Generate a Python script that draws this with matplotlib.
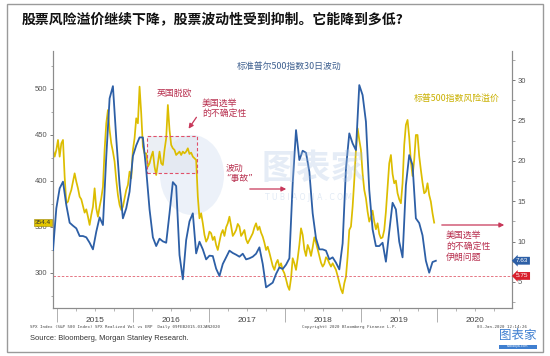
import pandas as pd
import matplotlib
matplotlib.use('Agg')
import matplotlib.pyplot as plt
import matplotlib.dates as mdates
from matplotlib.ticker import MultipleLocator, NullFormatter
from matplotlib.patches import Rectangle, Ellipse, FancyArrowPatch
from matplotlib.transforms import blended_transform_factory

plt.rcParams['font.family'] = ['Noto Sans CJK SC', 'DejaVu Sans']

# S&P 500 equity risk premium (bp, left axis), one reading every 8 days from 2014-12-13
erp = [
    433.6, 426.3, 433.6, 444.5, 426.3, 440.8, 444.5, 404.5, 375.5, 377.3,
    384.5, 390.0, 399.1, 408.1, 399.1, 391.8, 382.7, 379.8, 372.6, 365.3,
    368.9, 360.9, 351.9, 362.8, 371.8, 391.8, 370.0, 360.9, 371.8, 380.9,
    393.6, 433.6, 462.6, 477.1, 455.4, 440.8, 431.8, 420.9, 400.9, 384.5,
    373.7, 368.2, 371.8, 380.9, 390.0, 395.4, 410.0, 402.7, 433.6, 446.3,
    468.1, 462.6, 502.6, 473.5, 437.2, 429.9, 429.9, 415.4, 419.0, 426.3,
    431.8, 415.4, 406.3, 419.0, 431.8, 419.0, 417.2, 433.6, 446.3, 482.6,
    455.4, 439.0, 435.4, 433.6, 428.1, 429.9, 431.8, 428.1, 431.8, 429.9,
    431.8, 435.4, 429.2, 430.7, 426.3, 424.5, 422.7, 382.7, 359.1,
    364.6, 353.7, 341.0, 333.7, 337.3, 344.6, 342.8, 335.5, 339.1, 330.1,
    324.6, 333.7, 342.1, 346.4, 339.9, 349.3, 353.7, 360.9, 350.8, 339.9,
    342.8, 346.4, 353.0, 350.1, 339.9, 342.8, 346.4, 336.3, 331.9, 335.5,
    339.1, 342.8, 349.3, 353.7, 346.4, 350.1, 343.5, 339.1, 332.6, 324.6,
    328.2, 321.7, 314.5, 307.2, 302.9, 310.1, 313.8, 306.5, 310.1, 302.9,
    299.2, 292.7, 285.4, 281.1, 293.8, 315.6, 310.1, 302.9, 315.6, 330.1,
    348.2, 341.0, 325.4, 318.1, 330.1, 325.4, 318.1, 327.5, 338.4, 332.6,
    325.4, 318.1, 310.8, 306.5, 309.4, 316.7, 314.5, 310.1, 306.5, 310.1,
    306.5, 302.9, 296.3, 289.1, 281.8, 277.4, 288.3, 295.6, 317.4, 346.4,
    350.1, 371.8, 400.9, 433.6, 457.2, 444.5, 433.6, 408.1, 390.0, 380.9,
    366.4, 355.5, 360.9, 367.5, 355.5, 347.2, 353.7, 342.1, 337.3, 338.4,
    346.4, 366.4, 393.6, 419.0, 428.1, 407.4, 397.3, 400.2, 386.4, 379.8,
    375.5, 397.3, 439.0, 460.8, 466.3, 447.4, 420.9, 405.2, 422.7, 449.9,
    449.9, 427.0, 411.8, 398.0, 386.4, 388.2, 397.3, 384.6, 377.3, 364.6,
    354.4,
]

# S&P 500 30-day realized vol (%, right axis), one reading every 16 days
vol = [
    8.96, 14.12, 16.59, 17.42, 14.53, 12.34, 11.97, 11.64, 10.69, 10.69,
    10.53, 9.86, 9.04, 11.23, 13.00, 12.05, 20.51, 27.73, 29.25, 22.78,
    17.00, 12.88, 14.12, 16.18, 20.59, 21.91, 22.90, 22.90, 18.86, 13.99,
    10.53, 9.45, 10.36, 10.03, 9.86, 13.50, 17.37, 16.88, 8.34, 5.33,
    10.19, 12.51, 13.50, 8.54, 9.99,
    9.04, 7.80, 8.26, 8.21, 6.65, 5.74, 7.23, 8.05, 8.88, 8.59,
    8.38, 8.13, 8.50, 7.80, 7.93, 8.13, 8.50, 9.29, 7.23, 4.34,
    4.63, 4.92, 5.99, 6.81, 6.61, 7.14, 7.93, 17.21, 23.81, 20.10,
    21.25, 21.00, 18.65, 13.50, 10.40, 9.04, 9.04, 8.88, 7.80, 8.05,
    7.39, 6.56, 9.78, 19.06, 23.40,
    22.16, 21.33, 29.38, 28.14, 24.84, 16.38, 11.52, 9.45, 9.45, 9.86,
    7.51, 11.23, 14.81, 13.99, 9.99, 8.05, 16.97, 20.71, 19.48, 12.88,
    12.30, 10.77, 7.64, 6.15, 7.47, 7.63,
]

erp_dates = pd.date_range('2014-12-13', periods=len(erp), freq='8D')
vol_dates = pd.date_range('2014-12-13', periods=len(vol), freq='16D')

years = [2015, 2016, 2017, 2018, 2019, 2020]
erp_last = 354.4
vol_last = 7.63
vol_low = 5.75
brexit_box_dates = ['2016-03-07', '2016-11-02']
brexit_box_erp = [409, 449]

title = '股票风险溢价继续下降，股票波动性受到抑制。它能降到多低?'

BLUE = '#2d5fa6'
GOLD = '#dcbd00'
RED = '#b8304f'
GREY = '#555555'

W, H = 550, 356
fig = plt.figure(figsize=(5.5, 3.56), dpi=100)


def fx(x):
    return x / W


def fy(y):
    return 1 - y / H


ax = fig.add_axes([fx(53), fy(308), fx(512) - fx(53), fy(51) - fy(308)])
ax2 = ax.twinx()

# lines
ax.plot(erp_dates, erp, color=GOLD, lw=1.25, zorder=3)
ax2.plot(vol_dates, vol, color=BLUE, lw=1.3, zorder=3)
ax2.axhline(vol_low, color='#e06070', lw=0.6, ls=(0, (3, 2)), zorder=2)

# brexit box
x0 = mdates.date2num(pd.Timestamp(brexit_box_dates[0]))
x1 = mdates.date2num(pd.Timestamp(brexit_box_dates[1]))
ax.add_patch(Rectangle((x0, brexit_box_erp[0]), x1 - x0, brexit_box_erp[1] - brexit_box_erp[0],
                       fc='#dfe5ee', ec='none', alpha=0.6, zorder=1))
ax.add_patch(Rectangle((x0, brexit_box_erp[0]), x1 - x0, brexit_box_erp[1] - brexit_box_erp[0],
                       fc='none', ec='#e0506a', lw=0.8, ls=(0, (3, 2)), zorder=4))

# axes limits
ax.set_xlim(pd.Timestamp('2014-12-13'), pd.Timestamp('2020-12-27'))
ax.set_ylim(261.4, 541.4)
ax2.set_ylim(1.78, 33.6)

for a in (ax, ax2):
    a.spines['top'].set_visible(False)
    for s in ('left', 'right', 'bottom'):
        a.spines[s].set_color('#8c8c8c')
        a.spines[s].set_linewidth(0.8)
    a.patch.set_visible(False)

ax.set_yticks([300, 350, 400, 450, 500])
ax.yaxis.set_minor_locator(MultipleLocator(25))
ax2.set_yticks([5, 10, 15, 20, 25, 30])
ax2.yaxis.set_minor_locator(MultipleLocator(2.5))
ax.tick_params(axis='y', which='major', length=2.5, width=0.6, color='#666',
               labelsize=5.5, labelcolor=GREY, pad=1.5)
ax.tick_params(axis='y', which='minor', length=1.8, width=0.5, color='#888')
ax2.tick_params(axis='y', which='major', length=2.5, width=0.6, color='#666',
                labelsize=5.5, labelcolor=GREY, pad=1.5)
ax2.tick_params(axis='y', which='minor', length=1.8, width=0.5, color='#888')
for lab in ax.get_yticklabels() + ax2.get_yticklabels():
    lab.set_fontfamily('Liberation Sans')

ax.xaxis.set_major_locator(mdates.YearLocator())
ax.xaxis.set_minor_locator(mdates.MonthLocator(bymonth=[4, 7, 10]))
ax.xaxis.set_major_formatter(NullFormatter())
ax.tick_params(axis='x', which='major', length=10, width=0.7, color='#b0b0b0')
ax.tick_params(axis='x', which='minor', length=2, width=0.5, color='#999')

trans = blended_transform_factory(ax.transData, ax.transAxes)
for y in years:
    ax.text(pd.Timestamp(f'{y}-07-02'), -0.047, str(y), transform=trans,
            ha='center', va='center', fontsize=6, color='#444',
            family='Liberation Sans', clip_on=False)

# last value tags
tl = blended_transform_factory(ax.transAxes, ax.transData)
ax.text(-0.0044, erp_last, f'{erp_last}', transform=tl, ha='right', va='center',
        fontsize=4.6, color='#333', family='Liberation Sans', zorder=6,
        bbox=dict(boxstyle='square,pad=0.18', fc='#e2c500', ec='#9a8400', lw=0.4))
tr = blended_transform_factory(ax2.transAxes, ax2.transData)
ax2.text(1.009, vol_last, f'{vol_last}', transform=tr, ha='left', va='center',
         fontsize=4.6, color='white', family='Liberation Sans', zorder=6, clip_on=False,
         bbox=dict(boxstyle='larrow,pad=0.22', fc=BLUE, ec='none'))
ax2.text(1.009, vol_low, f'{vol_low}', transform=tr, ha='left', va='center',
         fontsize=4.6, color='white', family='Liberation Sans', zorder=6, clip_on=False,
         bbox=dict(boxstyle='larrow,pad=0.22', fc='#d8202c', ec='none'))

# watermark
fig.add_artist(Ellipse((fx(192), fy(175)), fx(64), 80 / H, transform=fig.transFigure,
                       fc='#c9d9ee', ec='none', alpha=0.35, zorder=0))
fig.text(fx(314), fy(168), '图表家', fontsize=25, color='#a9c3e3', alpha=0.3,
         ha='center', va='center', fontweight='bold')
fig.text(fx(308), fy(197), 'T U B I A O J I A . C O M', fontsize=5.5, color='#a9c3e3',
         alpha=0.35, ha='center', va='center', family='DejaVu Sans')

# title and frame
fig.add_artist(Rectangle((fx(7), fy(352)), fx(543) - fx(7), fy(4) - fy(352),
                         transform=fig.transFigure, fill=False, ec='#9a9a9a', lw=1))
fig.text(fx(22), fy(20), title, fontsize=10.0, fontweight='bold', color='#111',
         ha='left', va='center')

# series labels
fig.text(fx(289), fy(66), '标准普尔500指数30日波动', fontsize=6.4, color='#3d5f8f',
         ha='center', va='center')
fig.text(fx(457), fy(98), '标普500指数风险溢价', fontsize=6.4, color='#c9b000',
         ha='center', va='center')

# event notes
cjk = ['Noto Sans CJK SC', 'DejaVu Sans']
notes = [
    (174, 93, '英国脱欧', 'center', cjk),
    (202, 103, '美国选举', 'left', cjk),
    (202, 113, '的不确定性', 'left', cjk),
    (235, 168, '波动', 'center', cjk),
    (240, 178, '“事故”', 'center', ['DejaVu Sans', 'Noto Sans CJK SC']),
    (446, 235, '美国选举', 'left', cjk),
    (446, 246, '的不确定性', 'left', cjk),
    (446, 257, '伊朗问题', 'left', cjk),
]
for x, y, s, ha, fam in notes:
    fig.text(fx(x), fy(y), s, fontsize=6.4, color=RED, ha=ha, va='center', family=fam)

arrows = [((198, 115), (187, 131)), ((247, 189), (289, 189)), ((439, 225), (507, 225))]
for (xa, ya), (xb, yb) in arrows:
    fig.add_artist(FancyArrowPatch((fx(xa), fy(ya)), (fx(xb), fy(yb)),
                                   transform=fig.transFigure, arrowstyle='-|>',
                                   mutation_scale=7, color='#c8385a', lw=0.9))

# footer
mono = dict(fontsize=3.0, color='#444', family='DejaVu Sans Mono', va='center')
fig.text(fx(30), fy(327), 'SPX Index (S&P 500 Index) SPX Realized Vol vs ERP  Daily 09FEB2015-03JAN2020',
         ha='left', **mono)
fig.text(fx(302), fy(327), 'Copyright© 2020 Bloomberg Finance L.P.', ha='left', **mono)
fig.text(fx(527), fy(327), '03-Jan-2020 12:14:26', ha='right', **mono)
fig.text(fx(30), fy(338), 'Source: Bloomberg, Morgan Stanley Research.', fontsize=5.4,
         color='#333', family='Liberation Sans', ha='left', va='center')

# logo
fig.text(fx(518), fy(336), '图表家', fontsize=9, color='#3f7fd0', ha='center', va='center')
fig.add_artist(Rectangle((fx(499), fy(348.5)), fx(38), 4 / H, transform=fig.transFigure,
                         fc='#3f7fd0', ec='none'))
fig.text(fx(518), fy(346.5), 'tubiaojia.com', fontsize=2.3, color='white',
         family='DejaVu Sans', ha='center', va='center')

fig.savefig('out.png', dpi=100)
